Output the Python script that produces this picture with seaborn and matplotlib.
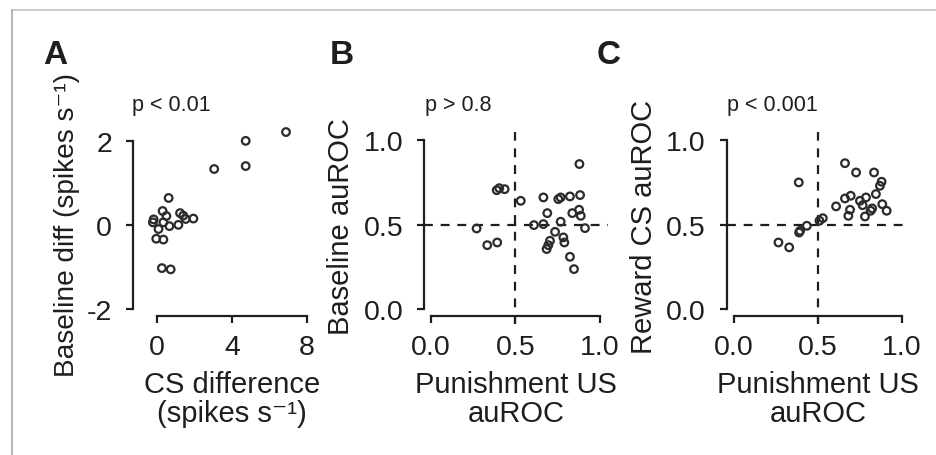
import numpy as np
import pandas as pd
import matplotlib
matplotlib.use("Agg")
import matplotlib.pyplot as plt
import seaborn as sns

# ---- data ----
# panel A: CS difference vs baseline difference (spikes/s)
cs_diff = [6.88, 4.73, 4.73, 3.05, 0.62, 0.30, 0.50, -0.18, 1.23, 1.40, 1.53, 1.94,
           1.14, 0.66, 0.34, 0.08, -0.22, -0.04, 0.34, 0.26, 0.73]
base_diff = [2.21, 2.00, 1.40, 1.33, 0.64, 0.33, 0.21, 0.13, 0.28, 0.22, 0.14, 0.15,
             0.00, -0.03, 0.06, -0.10, 0.06, -0.33, -0.35, -1.03, -1.06]

# panel B: punishment US auROC vs baseline auROC
pun_b = [0.878, 0.389, 0.404, 0.436, 0.531, 0.665, 0.753, 0.767, 0.822, 0.882,
         0.688, 0.836, 0.876, 0.886, 0.911, 0.609, 0.665, 0.767, 0.734, 0.783,
         0.789, 0.704, 0.694, 0.684, 0.822, 0.846, 0.270, 0.333, 0.392]
base_auc = [0.86, 0.705, 0.717, 0.711, 0.642, 0.662, 0.652, 0.662, 0.668, 0.676,
            0.569, 0.569, 0.589, 0.553, 0.480, 0.498, 0.504, 0.518, 0.458, 0.425,
            0.395, 0.405, 0.379, 0.356, 0.310, 0.237, 0.478, 0.379, 0.395]

# panel C: punishment US auROC vs reward CS auROC
pun_c = [0.663, 0.729, 0.836, 0.881, 0.871, 0.388, 0.847, 0.788, 0.697, 0.663,
         0.752, 0.768, 0.610, 0.885, 0.911, 0.825, 0.816, 0.782, 0.693, 0.683,
         0.531, 0.511, 0.436, 0.396, 0.390, 0.267, 0.331]
rew_auc = [0.865, 0.810, 0.810, 0.755, 0.731, 0.751, 0.682, 0.662, 0.672, 0.656,
           0.642, 0.616, 0.609, 0.622, 0.583, 0.597, 0.583, 0.549, 0.589, 0.553,
           0.539, 0.524, 0.494, 0.464, 0.454, 0.395, 0.366]

p_texts = ["p < 0.01", "p > 0.8", "p < 0.001"]
letters = ["A", "B", "C"]

# ---- style ----
sns.set_theme(style="ticks")
plt.rcParams["font.family"] = ["Liberation Sans", "DejaVu Sans"]
plt.rcParams["axes.unicode_minus"] = False
txt = "#1e1e1e"
ink = "#2b2b2b"
LAB = 21
TICK = 20.5

fig = plt.figure(figsize=(9.37, 4.56), dpi=100)
W, H = 937, 456

def add_ax(left, right, top, bottom):
    return fig.add_axes([left / W, 1 - bottom / H, (right - left) / W, (bottom - top) / H])

axA = add_ax(133, 307, 128, 317)
axB = add_ax(424, 608.5, 133, 317)
axC = add_ax(726.7, 910, 133, 317)

def style(ax, xb, yb, xt, yt):
    for s in ["top", "right"]:
        ax.spines[s].set_visible(False)
    ax.spines["left"].set_bounds(*yb)
    ax.spines["bottom"].set_bounds(*xb)
    for s in ["left", "bottom"]:
        ax.spines[s].set_linewidth(1.6)
        ax.spines[s].set_color(txt)
    ax.set_xticks(xt)
    ax.set_yticks(yt)
    ax.tick_params(direction="out", length=5, width=1.6, color=txt,
                   labelsize=TICK, labelcolor=txt)
    ax.tick_params(axis="x", pad=8)
    ax.tick_params(axis="y", pad=10)
    ax.set_facecolor("none")

def dots(ax, x, y):
    df = pd.DataFrame({"x": x, "y": y})
    sns.scatterplot(data=df, x="x", y="y", ax=ax, marker="o", s=30,
                    facecolor="none", edgecolor=ink, linewidth=1.6, clip_on=False)

# A
dots(axA, cs_diff, base_diff)
axA.set_xlim(-1.28, 8)
axA.set_ylim(-2.17, 2.33)
style(axA, (0, 8), (-2, 2), [0, 4, 8], [-2, 0, 2])
axA.set_ylabel("Baseline diff (spikes s\u207b\u00b9)", fontsize=20.2, color=txt)
axA.set_xlabel("CS difference\n(spikes s\u207b\u00b9)", fontsize=LAB, color=txt, linespacing=1.05)
axA.yaxis.set_label_coords(-0.305, 0.485)
axA.xaxis.set_label_coords(0.569, -0.285)

# B and C
for ax, x, y, lab in [(axB, pun_b, base_auc, "Baseline auROC"),
                      (axC, pun_c, rew_auc, "Reward CS auROC")]:
    ax.axhline(0.5, color=txt, lw=1.6, ls=(0, (4, 3.5)), zorder=1)
    ax.plot([0.5, 0.5], [-0.09, 1.05], color=txt, lw=1.6, ls=(0, (4, 3.5)),
            clip_on=False, zorder=1)
    dots(ax, x, y)
    ax.set_xlim(-0.041, 1.05)
    ax.set_ylim(-0.041, 1.05)
    style(ax, (0, 1), (0, 1), [0, 0.5, 1.0], [0, 0.5, 1.0])
    ax.set_xticklabels(["0.0", "0.5", "1.0"])
    ax.set_yticklabels(["0.0", "0.5", "1.0"])
    ax.set_ylabel(lab, fontsize=LAB, color=txt)
    ax.set_xlabel("Punishment US\nauROC", fontsize=LAB, color=txt, linespacing=1.05)
    ax.yaxis.set_label_coords(-0.374, 0.49)
    ax.xaxis.set_label_coords(0.5, -0.295)

# p-values and panel letters
for (px, lx), t, l in zip([(132, 43), (425, 330), (727, 597)], p_texts, letters):
    fig.text(px / W, 1 - 106 / H, t, fontsize=15.5, color=txt, va="center", ha="left")
    fig.text(lx / W, 1 - 55 / H, l, fontsize=24, fontweight="bold", color=txt,
             va="center", ha="left")

# light frame around the figure
fig.add_artist(plt.Line2D([12 / W, 1], [1 - 10.5 / H, 1 - 10.5 / H], color="#c4c4c4", lw=1.2))
fig.add_artist(plt.Line2D([12 / W, 12 / W], [0, 1 - 10.5 / H], color="#a8a8a8", lw=1.2))

fig.savefig("out.png", dpi=100)
